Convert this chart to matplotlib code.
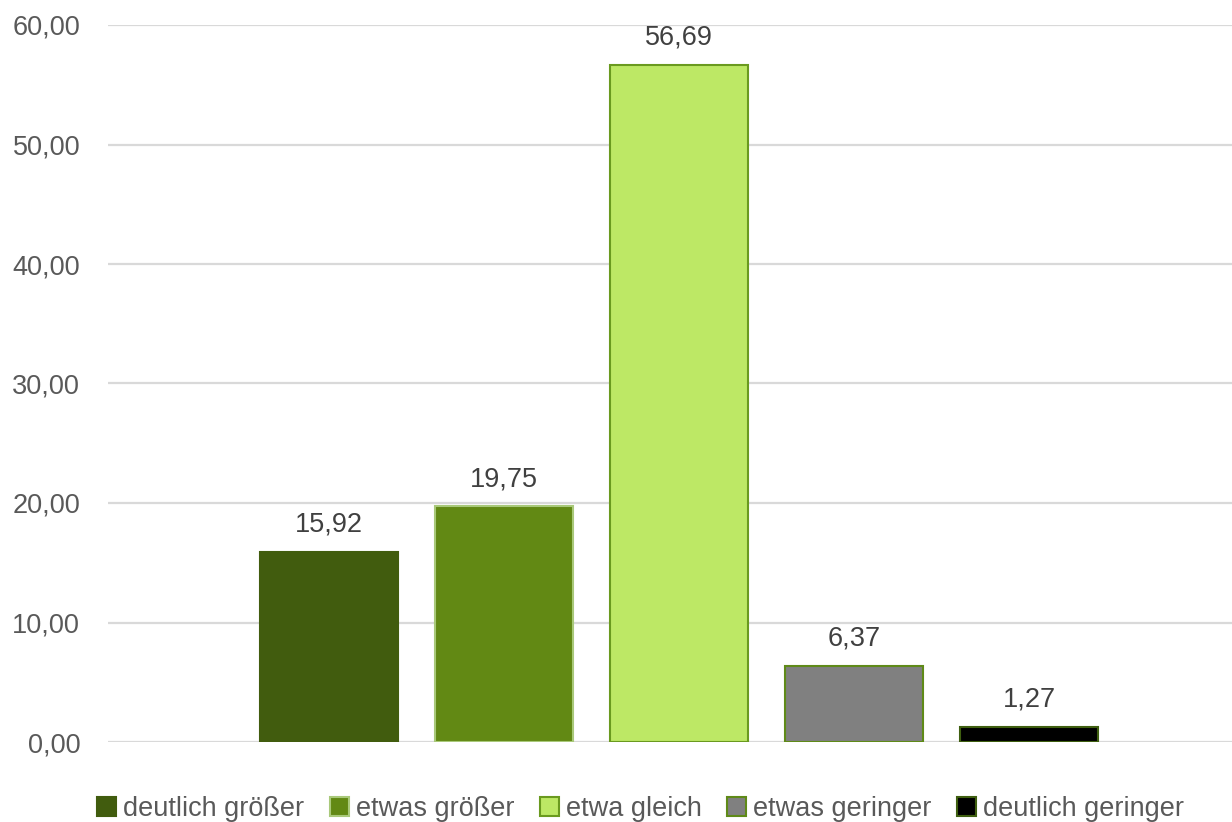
import matplotlib.pyplot as plt
import numpy as np

categories = ["deutlich größer", "etwas größer", "etwa gleich", "etwas geringer", "deutlich geringer"]
values = [15.92, 19.75, 56.69, 6.37, 1.27]
colors = ["#415C0E", "#628914", "#BDE865", "#808080", "#000000"]
edges = ["#415C0E", "#A9C97A", "#6A9A1F", "#5F8A18", "#3F5F10"]
yticks = [0, 10, 20, 30, 40, 50, 60]

plt.rcParams['font.family'] = ['Liberation Sans', 'DejaVu Sans']
text_color = "#595959"

fig = plt.figure(figsize=(12.32, 8.22), dpi=100)
ax = fig.add_axes([108 / 1232, 80 / 822, 1124 / 1232, 717 / 822])

x = np.arange(len(values))
for i in range(len(values)):
    ax.bar(x[i], values[i], width=0.79, color=colors[i], edgecolor=edges[i],
           linewidth=1.5, label=categories[i], zorder=3)
    ax.annotate(f"{values[i]:.2f}".replace(".", ","), (x[i], values[i]),
                xytext=(0, 10), textcoords="offset points", ha="center", va="bottom",
                fontsize=19.5, color="#404040")

ax.set_xlim(-1.263, 5.16)
ax.set_ylim(0, 60)
ax.set_yticks(yticks)
ax.set_yticklabels([f"{t:.2f}".replace(".", ",") for t in yticks], fontsize=19.5, color=text_color)
ax.set_xticks([])
ax.tick_params(axis="y", length=0, pad=20)
ax.yaxis.grid(True, color="#D9D9D9", linewidth=1.6, zorder=0)
for s in ax.spines.values():
    s.set_visible(False)
ax.set_axisbelow(True)

leg = fig.legend(loc="lower center", bbox_to_anchor=(0.52, -0.03), ncol=5, frameon=False,
                 fontsize=19.5, handlelength=0.7, handleheight=0.7, handletextpad=0.25,
                 columnspacing=0.95)
for t in leg.get_texts():
    t.set_color(text_color)

fig.savefig("out.png", dpi=100)
